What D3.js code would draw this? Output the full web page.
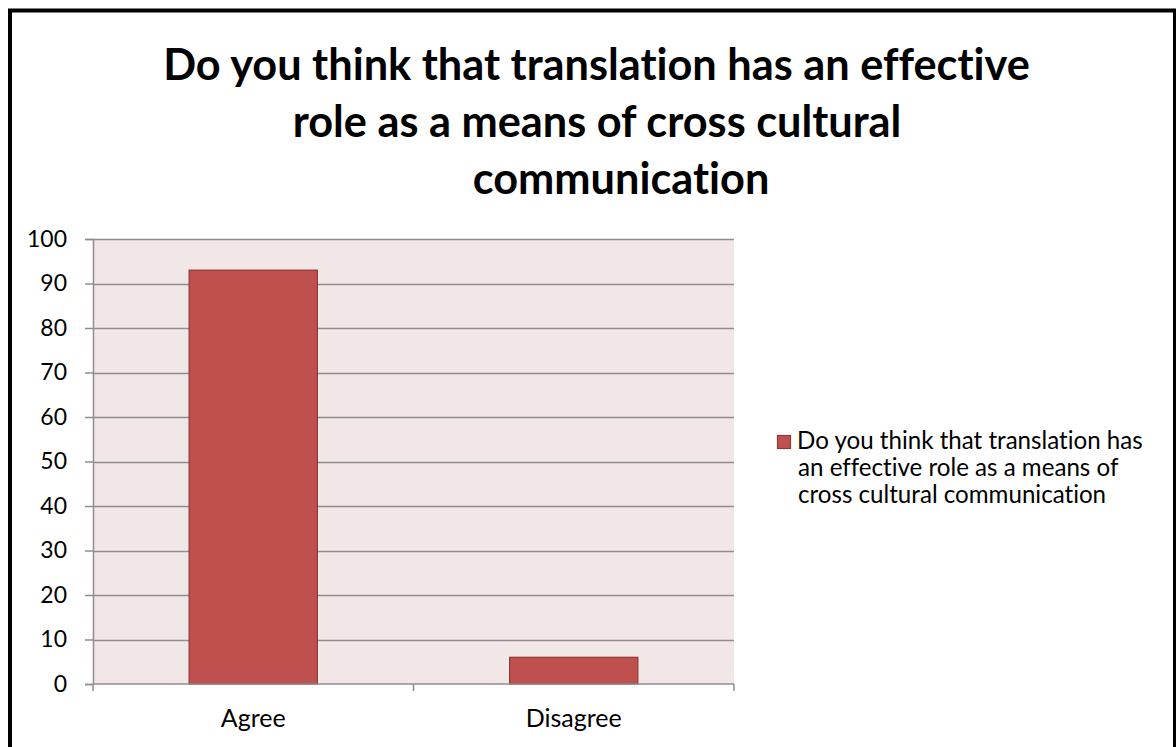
<!DOCTYPE html>
<html>
<head>
<meta charset="utf-8">
<script src="https://cdn.jsdelivr.net/npm/d3@7/dist/d3.min.js"></script>
<style>
  html, body { margin: 0; padding: 0; background: #fff; }
  svg { display: block; }
  text { font-family: Lato, "Open Sans", sans-serif; fill: #000; font-variant-ligatures: none; }
</style>
</head>
<body>
<svg id="chart" width="1176" height="747"></svg>
<script>
// Survey answers (percent)
const categories = ["Agree", "Disagree"];
const values = [93, 6];
const yTicks = [0, 10, 20, 30, 40, 50, 60, 70, 80, 90, 100];
const titleLines = [
  "Do you think that translation has an effective",
  "role as a means of cross cultural",
  "communication"
];
const legendLines = [
  "Do you think that translation has",
  "an effective role as a means of",
  "cross cultural communication"
];

const W = 1176, H = 747;
const plot = { left: 93, right: 734, top: 239, bottom: 684 };
const barFill = "#C0504D", barStroke = "#8C3836";
const gridColor = "#8E8E8E";

const svg = d3.select("#chart");

// Outer chart frame (bottom edge runs off the page)
svg.append("rect")
  .attr("x", 10).attr("y", 10.5)
  .attr("width", 1165).attr("height", H + 20)
  .attr("fill", "#fff").attr("stroke", "#000").attr("stroke-width", 4);

// Font size that makes a string span a given width
function fitSize(text, weight, target) {
  const t = svg.append("text").attr("font-size", 100).attr("font-weight", weight).text(text);
  const w = t.node().getComputedTextLength();
  t.remove();
  return 100 * target / w;
}

// Title
const titleSize = fitSize(titleLines[0], 700, 867);
const titleX = [596.5, 597, 621];
const titleBaselines = [80, 137, 194];
svg.append("g").selectAll("text").data(titleLines).join("text")
  .attr("x", (d, i) => titleX[i])
  .attr("y", (d, i) => titleBaselines[i])
  .attr("text-anchor", "middle")
  .attr("font-weight", 700)
  .attr("font-size", titleSize)
  .text(d => d);

// Scales
const x = d3.scaleBand().domain(categories)
  .range([plot.left, plot.right]).paddingInner(0.6).paddingOuter(0.3);
const y = d3.scaleLinear().domain([0, 100]).range([plot.bottom, plot.top]);

// Plot area background
svg.append("rect")
  .attr("x", plot.left).attr("y", plot.top)
  .attr("width", plot.right - plot.left).attr("height", plot.bottom - plot.top)
  .attr("fill", "#F2E7E7");

// Horizontal gridlines
svg.append("g").selectAll("line").data(yTicks.filter(v => v > 0)).join("line")
  .attr("x1", plot.left).attr("x2", plot.right)
  .attr("y1", d => Math.round(y(d)) + 0.5).attr("y2", d => Math.round(y(d)) + 0.5)
  .attr("stroke", gridColor).attr("stroke-width", 1.5);

// Bars
svg.append("g").selectAll("rect").data(values).join("rect")
  .attr("x", (d, i) => x(categories[i]))
  .attr("y", d => y(d))
  .attr("width", x.bandwidth())
  .attr("height", d => y(0) - y(d))
  .attr("fill", barFill)
  .attr("stroke", barStroke).attr("stroke-width", 1.2);

// Y axis
const tickFont = fitSize("100", 400, 40);
const yAxis = svg.append("g")
  .attr("transform", `translate(${plot.left},0)`)
  .call(d3.axisLeft(y).tickValues(yTicks).tickSize(8).tickPadding(18).tickFormat(d3.format("d")));
yAxis.select(".domain").attr("stroke", gridColor).attr("stroke-width", 1.5);
yAxis.selectAll(".tick line").attr("stroke", gridColor).attr("stroke-width", 1.5);
yAxis.selectAll(".tick text")
  .attr("font-family", "Lato, sans-serif").attr("font-size", tickFont).attr("fill", "#000");

// X axis: boundary ticks between categories
const xBounds = [plot.left, (plot.left + plot.right) / 2, plot.right];
svg.append("line")
  .attr("x1", plot.left).attr("x2", plot.right)
  .attr("y1", plot.bottom).attr("y2", plot.bottom)
  .attr("stroke", gridColor).attr("stroke-width", 1.5);
svg.append("g").selectAll("line").data(xBounds).join("line")
  .attr("x1", d => d).attr("x2", d => d)
  .attr("y1", plot.bottom).attr("y2", plot.bottom + 7)
  .attr("stroke", gridColor).attr("stroke-width", 1.5);
const catFont = fitSize("Agree", 400, 65);
svg.append("g").selectAll("text").data(categories).join("text")
  .attr("x", d => x(d) + x.bandwidth() / 2)
  .attr("y", 727)
  .attr("text-anchor", "middle")
  .attr("font-size", catFont)
  .text(d => d);

// Legend
const legendFont = fitSize(legendLines[0], 400, 346);
const legend = svg.append("g");
legend.append("rect")
  .attr("x", 777.5).attr("y", 435.5).attr("width", 13).attr("height", 13)
  .attr("fill", barFill).attr("stroke", barStroke).attr("stroke-width", 1.2);
legend.selectAll("text").data(legendLines).join("text")
  .attr("x", (d, i) => i === 0 ? 797 : 798)
  .attr("y", (d, i) => 449 + i * 27)
  .attr("font-size", legendFont)
  .text(d => d);
</script>
</body>
</html>
